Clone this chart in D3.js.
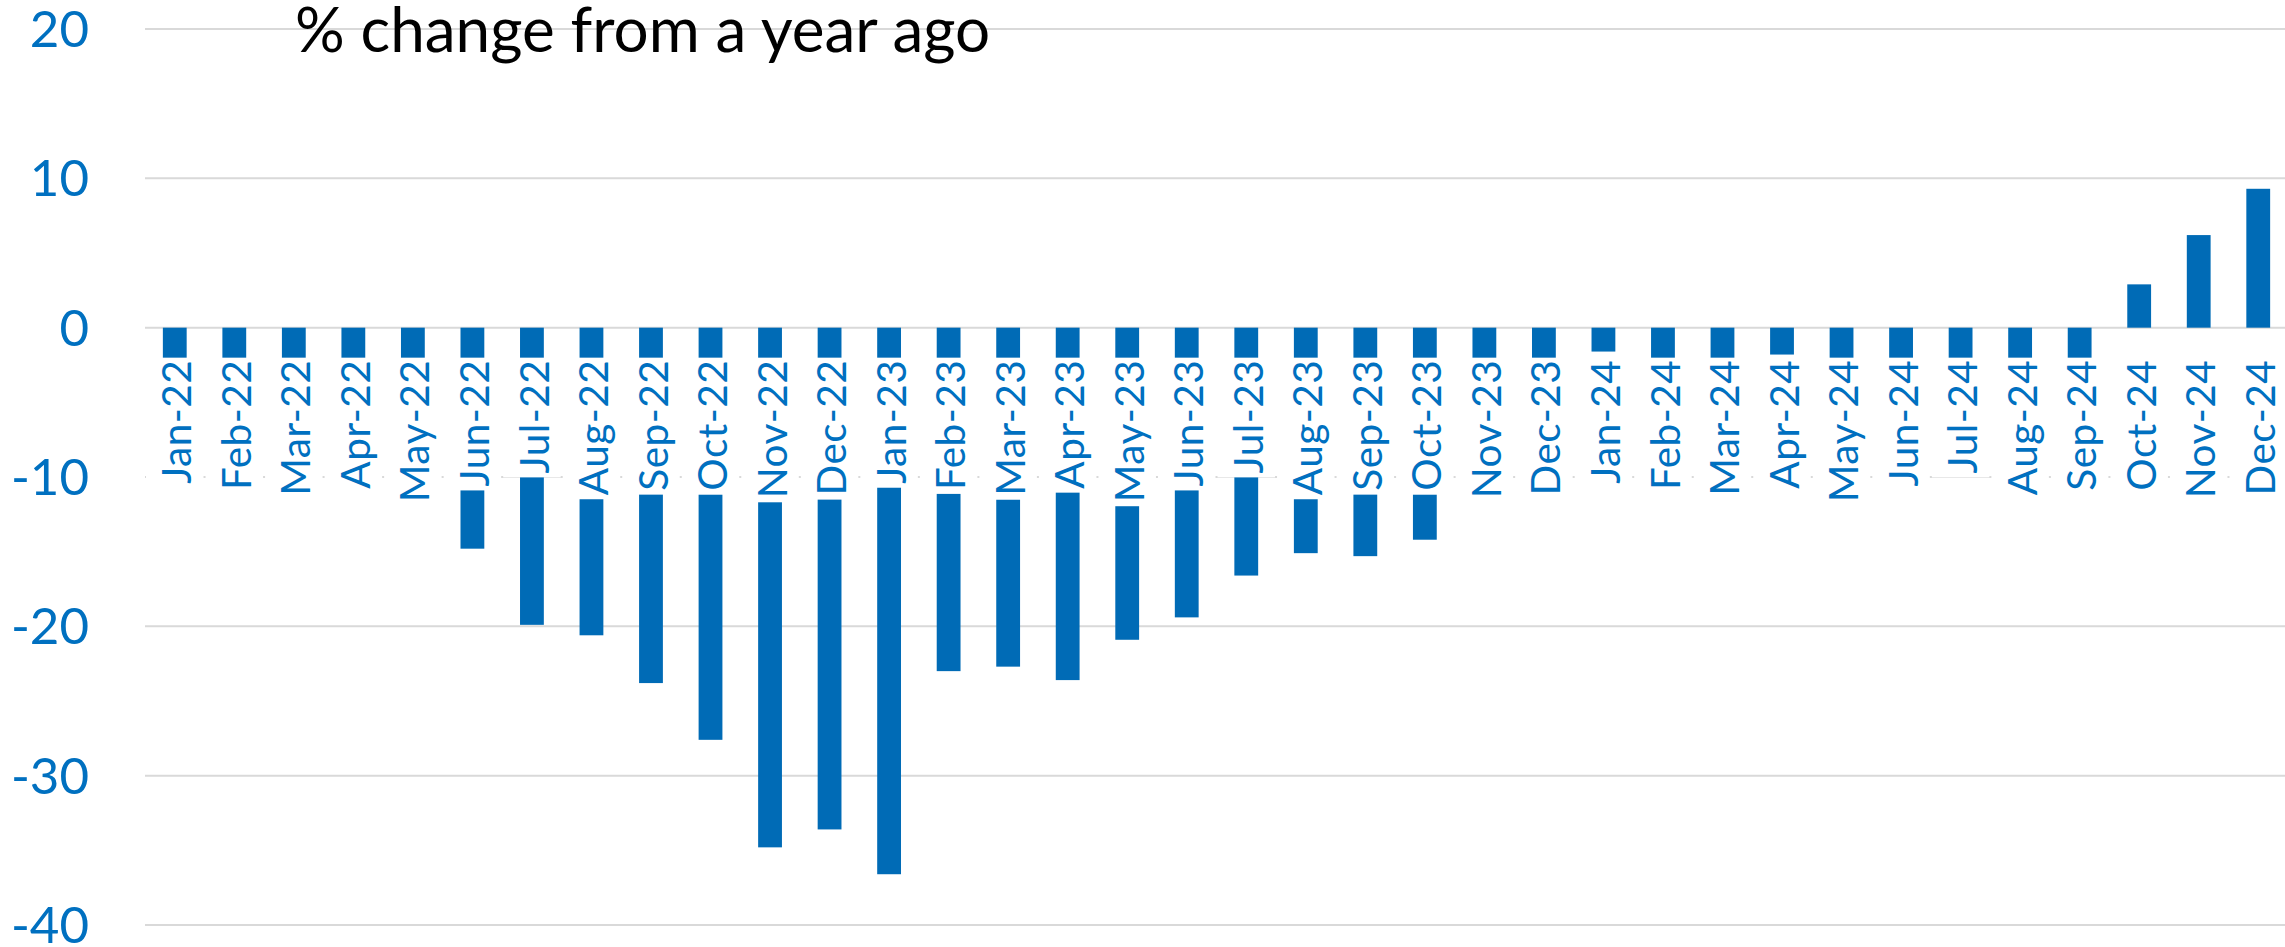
<!DOCTYPE html>
<html>
<head>
<meta charset="utf-8">
<script src="https://cdn.jsdelivr.net/npm/d3@7"></script>
<style>
  body { margin: 0; background: #fff; }
  text { font-family: Lato, "Open Sans", sans-serif; }
</style>
</head>
<body>
<div id="vis1"></div>
<script>
const WIDTH = 2285;
const HEIGHT = 947;
const MARG = {left: 145, right: -3, top: 29, bottom: 22};

// data
const months = ["Jan-22","Feb-22","Mar-22","Apr-22","May-22","Jun-22","Jul-22","Aug-22","Sep-22","Oct-22","Nov-22","Dec-22",
                "Jan-23","Feb-23","Mar-23","Apr-23","May-23","Jun-23","Jul-23","Aug-23","Sep-23","Oct-23","Nov-23","Dec-23",
                "Jan-24","Feb-24","Mar-24","Apr-24","May-24","Jun-24","Jul-24","Aug-24","Sep-24","Oct-24","Nov-24","Dec-24"];
const changes = [-4.0, -4.5, -5.5, -6.5, -8.0, -14.8, -19.9, -20.6, -23.8, -27.6, -34.8, -33.6,
                 -36.6, -23.0, -22.7, -23.6, -20.9, -19.4, -16.6, -15.1, -15.3, -14.2, -8.0, -4.5,
                 -1.6, -3.0, -2.6, -1.8, -2.8, -2.5, -2.3, -2.9, -2.2, 2.9, 6.2, 9.3];
const yTicks = [20, 10, 0, -10, -20, -30, -40];
const TITLE = "% change from a year ago";

const BAR_COLOR = "#006bb6";
const TEXT_BLUE = "#0070c0";
const GRID = "#d9d9d9";

const svg = d3.select("#vis1")
    .append("svg")
        .attr("width", WIDTH)
        .attr("height", HEIGHT);

const X_SCALE = d3.scaleBand()
    .domain(months)
    .range([MARG.left, WIDTH - MARG.right])
    .paddingInner(0.6)
    .paddingOuter(0.3);

const Y_SCALE = d3.scaleLinear()
    .domain([-40, 20])
    .range([HEIGHT - MARG.bottom, MARG.top]);

// gridlines + y labels
svg.append("g")
    .selectAll("line")
    .data(yTicks)
    .enter().append("line")
        .attr("x1", MARG.left)
        .attr("x2", WIDTH)
        .attr("y1", d => Y_SCALE(d))
        .attr("y2", d => Y_SCALE(d))
        .attr("stroke", GRID)
        .attr("stroke-width", 2);

svg.append("g")
    .selectAll("text")
    .data(yTicks)
    .enter().append("text")
        .attr("x", 89)
        .attr("y", d => Y_SCALE(d))
        .attr("dy", "0.35em")
        .attr("text-anchor", "end")
        .attr("font-size", 51)
        .attr("fill", TEXT_BLUE)
        .text(d => d);

// bars
svg.append("g")
    .selectAll("rect")
    .data(changes)
    .enter().append("rect")
        .attr("x", (d, i) => X_SCALE(months[i]))
        .attr("y", d => Y_SCALE(Math.max(0, d)))
        .attr("width", X_SCALE.bandwidth())
        .attr("height", d => Math.abs(Y_SCALE(d) - Y_SCALE(0)))
        .attr("fill", BAR_COLOR);

// category labels sit next to the zero line on a white box
const y0 = Y_SCALE(0);
const labels = svg.append("g")
    .selectAll("g")
    .data(months)
    .enter().append("g")
        .attr("transform", d => "translate(" + (X_SCALE(d) + X_SCALE.bandwidth() / 2 + 2) + "," + (y0 + 32) + ") rotate(-90)");

const boxes = labels.append("rect").attr("fill", "#fff");

const labTxt = labels.append("text")
    .attr("x", 0)
    .attr("y", 0)
    .attr("dy", "0.36em")
    .attr("text-anchor", "end")
    .attr("font-size", 40.5)
    .attr("letter-spacing", 0.5)
    .attr("fill", TEXT_BLUE)
    .text(d => d);

labTxt.each(function(d, i) {
    const len = this.getComputedTextLength();
    const step = X_SCALE.step();
    d3.select(boxes.nodes()[i])
        .attr("x", -len - 4)
        .attr("y", -step / 2 + 1 - 2)
        .attr("width", len + 6)
        .attr("height", step - 2);
});

// title
svg.append("text")
    .attr("x", 295)
    .attr("y", 52)
    .attr("font-size", 62)
    .attr("fill", "#000")
    .text(TITLE);
</script>
</body>
</html>
